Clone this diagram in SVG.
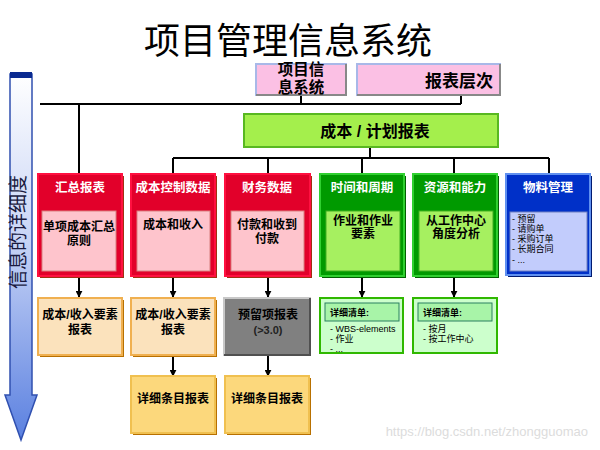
<svg xmlns="http://www.w3.org/2000/svg" width="600" height="450" viewBox="0 0 600 450">
<defs>
<linearGradient id="ag" x1="0" y1="0" x2="0" y2="1">
<stop offset="0" stop-color="#ffffff"/>
<stop offset="0.45" stop-color="#c8d4f6"/>
<stop offset="1" stop-color="#5a80e0"/>
</linearGradient>
<marker id="ah" viewBox="0 0 10 10" refX="9" refY="5" markerWidth="7" markerHeight="7" markerUnits="userSpaceOnUse" orient="auto">
<path d="M0,0 L10,5 L0,10 z" fill="#000"/>
</marker>
<style>
text{font-family:"Liberation Sans","Noto Sans CJK SC",sans-serif}
.b{font-weight:bold}
.c{text-anchor:middle}
.ln{stroke:#000;stroke-width:2;fill:none}
.ar{stroke:#000;stroke-width:2;fill:none;marker-end:url(#ah)}
.red{fill:#e2002a;stroke:#ff1040;stroke-width:2}
.rsh{fill:#a03010}
.pink{fill:#fec4cc;stroke:#d98080;stroke-width:1}
.grn{fill:#009a00;stroke:#30d030;stroke-width:2}
.gsh{fill:#006000}
.lg{fill:#a6f060;stroke:#40b020;stroke-width:1}
.blu{fill:#0030c8;stroke:#6090f0;stroke-width:2}
.bsh{fill:#001a70}
.lb{fill:#c2ccfc;stroke:#7080c0;stroke-width:1}
.peach{fill:#fbe2bc;stroke:#f0b050;stroke-width:2}
.ysh{fill:#b87000}
.yel{fill:#fcd87c;stroke:#f0c050;stroke-width:2}
.dg{fill:#ccffcc;stroke:#30b800;stroke-width:2}
.dgh{fill:#a8f4a8;stroke:#2a8060;stroke-width:1}
.hd{fill:#fff;font-size:12.5px;font-weight:bold;text-anchor:middle}
.in{fill:#000;font-size:12px;font-weight:bold;text-anchor:middle}
.sm{fill:#000;font-size:9px}
</style>
</defs>

<text x="288" y="54" class="c" font-size="36" fill="#000">项目管理信息系统</text>

<g id="detail-arrow">
<path d="M10,74 L32,74 L32,395 L37,395 L21,440 L5,395 L10,395 Z" fill="url(#ag)" stroke="#3050b0" stroke-width="1.5"/>
<rect x="10" y="72" width="22" height="6" fill="#0a2a90"/>
<text transform="translate(25,232) rotate(-90)" class="c" font-size="19" fill="#1a1a40">信息的详细度</text>
</g>

<g id="connectors">
<path class="ln" d="M301,95 V104 M40,104 H461 M461,95 V104 M79,104 V174"/>
<path class="ln" d="M370,147 V158 M173,158 H549 M173,158 V174 M268,158 V174 M362,158 V174 M454,158 V174 M549,158 V174"/>
<path class="ar" d="M79,277 V297"/>
<path class="ar" d="M173,277 V297"/>
<path class="ar" d="M268,277 V297"/>
<path class="ar" d="M362,277 V297"/>
<path class="ar" d="M454,277 V297"/>
<path class="ar" d="M173,356 V376"/>
<path class="ar" d="M268,356 V376"/>
</g>

<g id="pmis">
<rect x="256" y="64" width="90" height="31" fill="#fbc0e4" stroke="#a8b8e8" stroke-width="2"/>
<path d="M346,64 V95 H256" fill="none" stroke="#888" stroke-width="2"/>
<text x="301" y="75" class="c b" font-size="15.5" fill="#000">项目信</text>
<text x="301" y="93" class="c b" font-size="15.5" fill="#000">息系统</text>
</g>

<g id="report-level">
<rect x="357" y="64" width="143" height="31" fill="#fbc0e4" stroke="#a8b8e8" stroke-width="2"/>
<path d="M500,64 V95 H357" fill="none" stroke="#888" stroke-width="2"/>
<text x="459" y="87" class="c b" font-size="17" fill="#000">报表层次</text>
</g>

<g id="cost-plan">
<rect x="244" y="114" width="254" height="33" fill="#a4ef4c" stroke="#58b820" stroke-width="2"/>
<text x="375" y="137" class="c b" font-size="16" fill="#000">成本 / 计划报表</text>
</g>

<g id="summary">
<rect x="40" y="176" width="84" height="102" class="rsh"/>
<rect x="38" y="174" width="84" height="102" class="red"/>
<text x="80" y="192" class="hd">汇总报表</text>
<rect x="42" y="211" width="74" height="60" class="pink"/>
<text x="79" y="231" class="in">单项成本汇总</text>
<text x="79" y="245" class="in">原则</text>
</g>

<g id="cost-control">
<rect x="133" y="176" width="84" height="102" class="rsh"/>
<rect x="131" y="174" width="84" height="102" class="red"/>
<text x="173" y="192" class="hd">成本控制数据</text>
<rect x="137" y="211" width="73" height="60" class="pink"/>
<text x="173" y="229" class="in">成本和收入</text>
</g>

<g id="finance">
<rect x="227" y="176" width="85" height="102" class="rsh"/>
<rect x="225" y="174" width="85" height="102" class="red"/>
<text x="267" y="192" class="hd">财务数据</text>
<rect x="231" y="211" width="73" height="60" class="pink"/>
<text x="267" y="229" class="in">付款和收到</text>
<text x="267" y="243" class="in">付款</text>
</g>

<g id="time">
<rect x="322" y="176" width="84" height="102" class="gsh"/>
<rect x="320" y="174" width="84" height="102" class="grn"/>
<text x="362" y="192" class="hd">时间和周期</text>
<rect x="326" y="211" width="74" height="60" class="lg"/>
<text x="363" y="225" class="in" font-size="11.5">作业和作业</text>
<text x="363" y="238" class="in" font-size="11.5">要素</text>
</g>

<g id="resource">
<rect x="415" y="176" width="84" height="102" class="gsh"/>
<rect x="413" y="174" width="84" height="102" class="grn"/>
<text x="455" y="192" class="hd">资源和能力</text>
<rect x="419" y="211" width="74" height="60" class="lg"/>
<text x="456" y="225" class="in" font-size="11.5">从工作中心</text>
<text x="456" y="238" class="in" font-size="11.5">角度分析</text>
</g>

<g id="material">
<rect x="508" y="176" width="84" height="101" class="bsh"/>
<rect x="506" y="174" width="84" height="101" class="blu"/>
<text x="548" y="192" class="hd">物料管理</text>
<rect x="510" y="212" width="77" height="59" class="lb"/>
<text x="512" y="222" class="sm">- 预留</text>
<text x="512" y="232" class="sm">- 请购单</text>
<text x="512" y="242" class="sm">- 采购订单</text>
<text x="512" y="252" class="sm">- 长期合同</text>
<text x="512" y="263" class="sm">- ...</text>
</g>

<g id="cost-element-1">
<rect x="40" y="300" width="84" height="57" class="ysh"/>
<rect x="38" y="298" width="84" height="57" class="peach"/>
<text x="80" y="319" class="in">成本/收入要素</text>
<text x="80" y="334" class="in">报表</text>
</g>

<g id="cost-element-2">
<rect x="133" y="300" width="84" height="57" class="ysh"/>
<rect x="131" y="298" width="84" height="57" class="peach"/>
<text x="173" y="319" class="in">成本/收入要素</text>
<text x="173" y="334" class="in">报表</text>
</g>

<g id="reservation">
<rect x="224" y="298" width="86" height="57" fill="#808080" stroke="#c8c8c8" stroke-width="2"/>
<path d="M310,298 V355 H224" fill="none" stroke="#505050" stroke-width="2"/>
<text x="268" y="319" class="in" fill="#222">预留项报表</text>
<text x="268" y="334" class="c b" font-size="11" fill="#222">(&gt;3.0)</text>
</g>

<g id="detail-1">
<rect x="133" y="378" width="84" height="57" class="ysh"/>
<rect x="131" y="376" width="84" height="57" class="yel"/>
<text x="173" y="403" class="in">详细条目报表</text>
</g>

<g id="detail-2">
<rect x="227" y="378" width="84" height="57" class="ysh"/>
<rect x="225" y="376" width="84" height="57" class="yel"/>
<text x="267" y="403" class="in">详细条目报表</text>
</g>

<g id="list-time">
<rect x="320" y="298" width="83" height="55" class="dg"/>
<rect x="325" y="303" width="74" height="18" class="dgh"/>
<text x="330" y="316" class="sm b">详细清单:</text>
<text x="330" y="332" class="sm">- WBS-elements</text>
<text x="330" y="342" class="sm">- 作业</text>
<text x="330" y="352" class="sm">- ...</text>
</g>

<g id="list-resource">
<rect x="413" y="298" width="84" height="55" class="dg"/>
<rect x="418" y="303" width="74" height="18" class="dgh"/>
<text x="423" y="316" class="sm b">详细清单:</text>
<text x="423" y="332" class="sm">- 按月</text>
<text x="423" y="342" class="sm">- 按工作中心</text>
</g>

<text x="588" y="436" text-anchor="end" font-size="13" fill="#dcdcdc">https://blog.csdn.net/zhongguomao</text>
</svg>
